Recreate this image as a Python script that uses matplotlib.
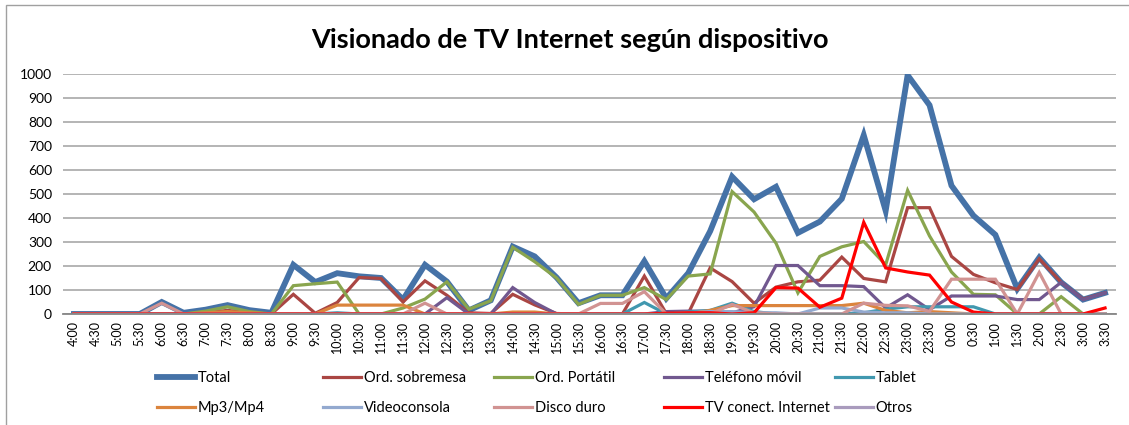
import matplotlib
matplotlib.use("Agg")
import matplotlib.pyplot as plt
from matplotlib.patches import Rectangle

plt.rcParams["font.family"] = ["Lato", "DejaVu Sans"]

# half-hour slots from 4:00 to 3:30
horas = ["4:00", "4:30", "5:00", "5:30", "6:00", "6:30", "7:00", "7:30", "8:00", "8:30",
         "9:00", "9:30", "10:00", "10:30", "11:00", "11:30", "12:00", "12:30", "13:00", "13:30",
         "14:00", "14:30", "15:00", "15:30", "16:00", "16:30", "17:00", "17:30", "18:00", "18:30",
         "19:00", "19:30", "20:00", "20:30", "21:00", "21:30", "22:00", "22:30", "23:00", "23:30",
         "0:00", "0:30", "1:00", "1:30", "2:00", "2:30", "3:00", "3:30"]

total = [0, 0, 0, 0, 50, 5, 18, 37, 16, 5,
         205, 133, 170, 157, 150, 60, 205, 135, 15, 57,
         281, 240, 152, 45, 78, 78, 220, 65, 170, 345,
         572, 478, 530, 338, 385, 480, 745, 430, 995, 870,
         535, 410, 330, 105, 235, 132, 60, 88]
sobremesa = [0, 0, 0, 0, 0, 0, 5, 15, 5, 0,
             82, 3, 48, 152, 148, 50, 138, 78, 5, 2,
             82, 38, 2, 0, 0, 0, 158, 2, 2, 192,
             135, 45, 112, 134, 141, 237, 148, 134, 443, 443,
             240, 165, 130, 102, 230, 132, 62, 88]
portatil = [0, 0, 0, 0, 0, 0, 12, 30, 10, 0,
            118, 126, 133, 0, 0, 25, 62, 134, 20, 55,
            278, 218, 150, 40, 78, 78, 110, 60, 158, 167,
            510, 425, 295, 88, 240, 280, 302, 205, 515, 325,
            175, 82, 80, 0, 0, 72, 0, 0]
movil = [0, 0, 0, 0, 0, 0, 0, 0, 0, 0,
         0, 0, 0, 0, 0, 0, 0, 68, 0, 0,
         110, 48, 0, 0, 0, 0, 0, 10, 12, 12,
         5, 30, 202, 202, 118, 118, 114, 25, 80, 18,
         75, 75, 75, 60, 60, 132, 60, 88]
tablet = [0, 0, 0, 0, 0, 0, 0, 0, 0, 0,
          0, 0, 5, 0, 0, 0, 0, 0, 0, 0,
          0, 0, 0, 0, 0, 0, 48, 0, 8, 15,
          45, 10, 0, 0, 0, 0, 5, 20, 30, 30,
          30, 30, 0, 0, 0, 0, 0, 0]
mp3 = [0, 0, 0, 0, 0, 0, 5, 10, 5, 0,
       0, 0, 37, 37, 37, 37, 0, 0, 0, 0,
       8, 8, 0, 0, 0, 0, 0, 0, 0, 15,
       35, 35, 35, 35, 35, 35, 45, 15, 5, 10,
       5, 0, 0, 0, 0, 0, 0, 0]
videoconsola = [0, 0, 0, 0, 0, 0, 0, 0, 0, 0,
                0, 0, 0, 0, 0, 0, 0, 0, 0, 0,
                0, 0, 0, 0, 0, 0, 0, 0, 5, 10,
                10, 5, 5, 0, 25, 25, 8, 5, 5, 0,
                0, 0, 0, 0, 0, 0, 0, 0]
disco = [0, 0, 0, 0, 45, 0, 0, 0, 0, 0,
         0, 0, 0, 0, 0, 0, 45, 0, 0, 0,
         0, 0, 0, 0, 44, 44, 93, 0, 0, 0,
         40, 5, 0, 0, 0, 0, 45, 36, 34, 11,
         145, 145, 145, 0, 173, 0, 0, 0]
tv = [0, 0, 0, 0, 0, 0, 0, 0, 0, 0,
      0, 0, 0, 0, 0, 0, 0, 0, 0, 0,
      0, 0, 0, 0, 0, 0, 0, 3, 5, 5,
      0, 5, 110, 108, 28, 66, 382, 192, 175, 162,
      50, 8, 0, 0, 0, 0, 0, 25]
otros = [0] * 48

series = [
    ("Total", total, "#4572A7", 4.2),
    ("Ord. sobremesa", sobremesa, "#AA4643", 2.3),
    ("Ord. Portátil", portatil, "#89A54E", 2.3),
    ("Teléfono móvil", movil, "#71588F", 2.3),
    ("Tablet", tablet, "#4198AF", 2.3),
    ("Mp3/Mp4", mp3, "#DB843D", 2.3),
    ("Videoconsola", videoconsola, "#93A9CF", 2.3),
    ("Disco duro", disco, "#D19392", 2.3),
    ("TV conect. Internet", tv, "#FF0000", 2.3),
    ("Otros", otros, "#A99BBD", 2.3),
]

fig = plt.figure(figsize=(11.29, 4.25), dpi=100)
ax = fig.add_axes([0.0558, 0.2612, 0.9327, 0.5647])

x = range(len(horas))
handles = []
for name, vals, col, lw in series:
    h, = ax.plot(x, vals, color=col, lw=lw, label=name, solid_joinstyle="miter")
    handles.append(h)

ax.set_xlim(-0.5, len(horas) - 0.5)
ax.set_ylim(0, 1000)
ax.set_yticks(range(0, 1001, 100))
ax.set_xticks(list(x))
ax.set_xticklabels(horas, rotation=90, fontsize=9)
ax.tick_params(axis="x", length=0, pad=5)
ax.tick_params(axis="y", length=0, pad=8, labelsize=10)
ax.grid(axis="y", color="#A0A0A0", lw=1.1)
ax.set_axisbelow(True)
for s in ["top", "right", "left"]:
    ax.spines[s].set_visible(False)
ax.spines["bottom"].set_color("#868686")
ax.spines["bottom"].set_linewidth(1.3)

fig.text(0.505, 0.905, "Visionado de TV Internet según dispositivo",
         ha="center", va="center", fontsize=19.5, fontweight="bold")

# legend: five columns, two rows
col_x = [157, 323, 494, 664, 835]
for i, cx in enumerate(col_x):
    hs = [handles[i], handles[i + 5]]
    fig.legend(handles=hs, labels=[h.get_label() for h in hs],
               loc="center left", bbox_to_anchor=(cx / 1129, 1 - 393 / 425),
               frameon=False, fontsize=10.5, handlelength=2.6, handletextpad=0.2,
               borderpad=0, borderaxespad=0, labelspacing=1.05)

# outer chart frame (left and top edges visible)
fig.add_artist(Rectangle((6 / 1129, -0.2), 1.5, 1.2 - 5 / 425,
                         transform=fig.transFigure, fill=False,
                         edgecolor="#A0A0A0", lw=1.0))

fig.savefig("out.png", dpi=100)
